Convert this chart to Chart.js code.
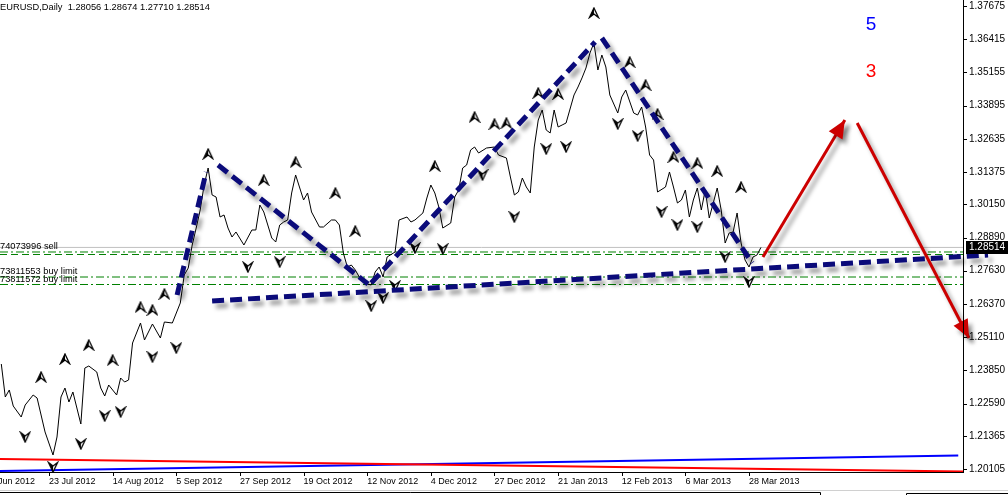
<!DOCTYPE html>
<html><head><meta charset="utf-8">
<script src="https://cdn.jsdelivr.net/npm/chart.js@4.4.1/dist/chart.umd.min.js"></script>
<style>html,body{margin:0;padding:0;background:#fff;overflow:hidden}canvas{display:block}</style>
</head><body><canvas id="c" width="1008" height="495"></canvas>
<script>
// ---- data (bar index = trading days from 29 Jun 2012 + 4) ----
const closeIdx=[0,1,2,3,5,6,8,9,11,13,14,15,16,17,18,20,21,22,24,25,26,27,29,30,31,32,33,35,36,38,40,41,43,45,46,47,48,49,50,51,52,53,54,55,56,57,58,59,61,63,64,65,66,68,69,70,71,72,73,74,76,77,78,80,81,83,84,85,86,87,88,89,90,92,93,94,95,96,97,99,100,102,103,104,106,107,108,109,110,111,113,114,115,116,117,118,119,120,122,124,125,127,128,129,130,131,132,133,134,135,136,137,138,139,140,141,142,144,145,146,147,148,149,150,151,152,153,155,156,157,159,160,161,162,163,164,165,167,168,169,170,171,172,173,174,175,176,177,178,180,181,182,183,184,185,186,187,188,189,190,191];
const closeVal=[1.24089,1.22837,1.23103,1.22495,1.22078,1.22533,1.22913,1.22799,1.21509,1.20636,1.21319,1.22837,1.23178,1.22647,1.23027,1.21812,1.23937,1.24013,1.23786,1.23178,1.22875,1.23292,1.22913,1.23558,1.23406,1.23482,1.24886,1.25645,1.25000,1.25607,1.25076,1.25683,1.25645,1.26404,1.27467,1.27732,1.28605,1.29250,1.29934,1.30882,1.31527,1.30503,1.30427,1.29668,1.29744,1.29250,1.28909,1.29099,1.28605,1.29175,1.29175,1.30123,1.29858,1.28871,1.28719,1.29364,1.29478,1.29554,1.30579,1.31262,1.30313,1.30579,1.29858,1.29288,1.29288,1.29554,1.29554,1.29364,1.28302,1.27770,1.27846,1.27657,1.27391,1.27125,1.27087,1.27581,1.27770,1.27391,1.28150,1.28340,1.29554,1.29668,1.29478,1.29554,1.29820,1.30389,1.30882,1.30579,1.30047,1.29250,1.29440,1.30427,1.30693,1.31527,1.31641,1.32211,1.32324,1.32097,1.32286,1.32324,1.32021,1.31907,1.31186,1.30503,1.30617,1.31148,1.30806,1.30579,1.32324,1.33349,1.33729,1.32970,1.32856,1.33729,1.33083,1.33159,1.33235,1.34298,1.34601,1.34943,1.35322,1.35892,1.36271,1.35247,1.35816,1.35360,1.34298,1.33615,1.34222,1.34488,1.33615,1.33539,1.33842,1.33083,1.32021,1.31831,1.30617,1.30806,1.31376,1.30806,1.30199,1.30313,1.30693,1.29668,1.30313,1.30768,1.29934,1.30693,1.29630,1.30768,1.29934,1.28681,1.29061,1.29099,1.29820,1.28681,1.28036,1.27770,1.28150,1.28226,1.28514];
const fracUpIdx=[10,16,22,28,35,38,41,52,66,74,84,89,109,119,124,127,135,140,149,158,162,165,169,175,180,186];
const fracUpVal=[1.23596,1.24279,1.24810,1.24241,1.26252,1.26139,1.26746,1.32059,1.31072,1.31755,1.30579,1.29137,1.31603,1.33463,1.33197,1.33235,1.34374,1.34336,1.37410,1.35550,1.34677,1.33577,1.31945,1.31717,1.31414,1.30806];
const fracDnIdx=[6,13,20,26,30,38,44,62,70,93,96,99,104,111,121,129,137,142,155,160,166,170,175,182,188];
const fracDnVal=[1.21319,1.20180,1.21053,1.22116,1.22268,1.24355,1.24696,1.27770,1.27960,1.26290,1.26594,1.27049,1.28491,1.28453,1.31262,1.29668,1.32248,1.32324,1.33197,1.32742,1.29858,1.29364,1.29288,1.28150,1.27201];
const yTicks=[1.20105,1.21365,1.22590,1.23850,1.25110,1.26370,1.27630,1.28890,1.30150,1.31375,1.32635,1.33895,1.35155,1.36415,1.37675];
const xTickIdx=[-4,12,28,44,60,76,92,108,124,140,156,172,188];
const xTickLabels=['29 Jun 2012','23 Jul 2012','14 Aug 2012','5 Sep 2012','27 Sep 2012','19 Oct 2012','12 Nov 2012','4 Dec 2012','27 Dec 2012','21 Jan 2013','12 Feb 2013','6 Mar 2013','28 Mar 2013'];
const patternIdx=[[44.2,51.5],[54.5,92.2],[93.0,149.3],[151.0,188.8],[53.0,248.1]];
const patternVal=[[1.26708,1.31376],[1.31641,1.27125],[1.27163,1.36309],[1.36461,1.27922],[1.26480,1.28226]];
const arrowIdx=[[191.5,212.1],[215.2,243.3]];
const arrowVal=[[1.28150,1.33349],[1.33235,1.25076]];
const levelVal=[1.28514,1.28340,1.28245,1.27391,1.27106];
const levelLabels=['','74073996 sell','','73811553 buy limit','73811572 buy limit'];
const redLineIdx=[-0.33,241.8], redLineVal=[1.20484,1.20009];
const blueLineIdx=[-0.33,240.6], blueLineVal=[1.20029,1.20617];
const annIdx=[218.7,218.7], annVal=[1.36954,1.35171], annText=['5','3'], annColor=['#0000ff','#ff0000'];
const titleText='EURUSD,Daily  1.28056 1.28674 1.27710 1.28514';
const lastPrice=1.28514;
const X_MIN=-0.33, X_MAX=241.8, Y_MIN=1.19991, Y_MAX=1.37903;

// ---- glyphs ----
function glyph(up){
  const c=document.createElement('canvas');c.width=12;c.height=12;
  const g=c.getContext('2d');
  const P=up?[[6,1],[10.5,10.5],[6,7],[1.5,10.5]]:[[6,11],[10.5,1.5],[6,5],[1.5,1.5]];
  g.lineJoin='miter';
  g.fillStyle='#fff';g.beginPath();P.forEach((p,i)=>i?g.lineTo(p[0],p[1]):g.moveTo(p[0],p[1]));g.closePath();g.fill();
  g.fillStyle='#000';g.beginPath();g.moveTo(P[0][0],P[0][1]);g.lineTo(P[2][0],P[2][1]);g.lineTo(P[3][0],P[3][1]);g.closePath();g.fill();
  g.strokeStyle='#000';g.lineWidth=1.3;g.beginPath();P.forEach((p,i)=>i?g.lineTo(p[0],p[1]):g.moveTo(p[0],p[1]));g.closePath();g.stroke();
  return c;
}
const upG=glyph(true), dnG=glyph(false);
const pts=(xs,ys)=>xs.map((x,i)=>({x,y:ys[i]}));

const datasets=[];
arrowIdx.forEach((a,i)=>datasets.push({data:pts(a,arrowVal[i]),borderColor:'#cc0000',borderWidth:3,pointRadius:0,_shadow:true,_arrow:true,clip:false}));
patternIdx.forEach((a,i)=>datasets.push({data:pts(a,patternVal[i]),borderColor:'#0b0b7a',borderWidth:5,borderDash:[12,6],borderCapStyle:'butt',pointRadius:0,_shadow:true,clip:false}));
datasets.push({data:pts(fracUpIdx,fracUpVal),showLine:false,pointStyle:upG,pointRadius:6});
datasets.push({data:pts(fracDnIdx,fracDnVal),showLine:false,pointStyle:dnG,pointRadius:6});
datasets.push({data:pts(closeIdx,closeVal),borderColor:'#000',borderWidth:1,pointRadius:0,tension:0});
levelVal.forEach((v,i)=>{
  const st=i===0?{borderColor:'#c0c0c0',borderDash:[]}:(i===2?{borderColor:'#008000',borderDash:[7,4]}:{borderColor:'#008000',borderDash:[8,3,2,3]});
  datasets.push(Object.assign({data:pts([X_MIN,X_MAX],[v,v]),borderWidth:1,pointRadius:0},st));
});
datasets.push({data:pts(redLineIdx,redLineVal),borderColor:'#ff0000',borderWidth:2,pointRadius:0});
datasets.push({data:pts(blueLineIdx,blueLineVal),borderColor:'#0000ff',borderWidth:2,pointRadius:0});

const FONT='"Liberation Sans", Arial, sans-serif';
const decor={
  id:'decor',
  beforeDatasetDraw(chart,args){
    const ds=chart.data.datasets[args.index];
    if(ds._shadow){const c=chart.ctx;c.save();c.shadowColor='rgba(0,0,0,0.38)';c.shadowBlur=4;c.shadowOffsetX=4;c.shadowOffsetY=5;}
  },
  afterDatasetDraw(chart,args){
    const ds=chart.data.datasets[args.index];
    if(!ds._shadow)return;
    const c=chart.ctx;
    if(ds._arrow){
      const m=chart.getDatasetMeta(args.index);const p0=m.data[0],p1=m.data[1];
      const a=Math.atan2(p1.y-p0.y,p1.x-p0.x),L=18,W=8;
      c.fillStyle=ds.borderColor;c.beginPath();
      c.moveTo(p1.x,p1.y);
      c.lineTo(p1.x-L*Math.cos(a)+W*Math.sin(a),p1.y-L*Math.sin(a)-W*Math.cos(a));
      c.lineTo(p1.x-L*Math.cos(a)-W*Math.sin(a),p1.y-L*Math.sin(a)+W*Math.cos(a));
      c.closePath();c.fill();
    }
    c.restore();
  },
  afterDraw(chart){
    const c=chart.ctx,x=chart.scales.x,y=chart.scales.y,A=chart.chartArea;
    c.save();
    c.fillStyle='#000';c.font='9.3px '+FONT;c.textBaseline='middle';c.textAlign='left';
    c.fillText(titleText,0,7);
    c.textBaseline='alphabetic';
    levelLabels.forEach((t,i)=>{if(t)c.fillText(t,0,Math.round(y.getPixelForValue(levelVal[i]))-3);});
    c.font='19px '+FONT;c.textAlign='center';c.textBaseline='middle';
    annText.forEach((t,i)=>{c.fillStyle=annColor[i];c.fillText(t,x.getPixelForValue(annIdx[i]),y.getPixelForValue(annVal[i]));});
    c.strokeStyle='#000';c.lineWidth=1;c.beginPath();
    c.moveTo(Math.round(A.right)+0.5,0);c.lineTo(Math.round(A.right)+0.5,Math.round(A.bottom)+1);
    c.moveTo(0,Math.round(A.bottom)+0.5);c.lineTo(Math.round(A.right)+1,Math.round(A.bottom)+0.5);
    yTicks.forEach(v=>{const py=Math.round(y.getPixelForValue(v))+0.5;c.moveTo(A.right,py);c.lineTo(A.right+4,py);});
    xTickIdx.forEach(v=>{const px=Math.round(x.getPixelForValue(v))+0.5;if(px>0){c.moveTo(px,A.bottom);c.lineTo(px,A.bottom+4);}});
    c.stroke();
    c.fillStyle='#000';c.font='9px '+FONT;c.textAlign='left';c.textBaseline='middle';
    xTickIdx.forEach((v,i)=>{if(v<X_MIN)c.fillText(xTickLabels[i],x.getPixelForValue(v),A.bottom+9.5);});
    const py=Math.round(y.getPixelForValue(lastPrice));
    c.fillStyle='#000';c.fillRect(A.right+3,py-6,1008-A.right-3,13);
    c.fillStyle='#fff';c.font='10px '+FONT;c.textBaseline='middle';c.fillText(lastPrice.toFixed(5),A.right+6,py+0.5);
    c.strokeStyle='#d0d0d0';c.beginPath();c.moveTo(0,490.5);c.lineTo(1008,490.5);c.stroke();
    c.strokeStyle='#000';c.beginPath();c.moveTo(0,492.5);c.lineTo(820.5,492.5);c.lineTo(820.5,495);
    c.moveTo(906.5,495);c.lineTo(906.5,493.5);c.lineTo(1008,493.5);c.stroke();
    c.restore();
  }
};

new Chart(document.getElementById('c'),{
  type:'line',
  data:{datasets},
  plugins:[decor],
  options:{
    responsive:false,animation:false,devicePixelRatio:1,
    layout:{padding:0,autoPadding:false},
    plugins:{legend:{display:false},tooltip:{enabled:false}},
    events:[],
    scales:{
      x:{type:'linear',position:'bottom',min:X_MIN,max:X_MAX,
        grid:{display:false,drawTicks:false},border:{display:false},
        afterBuildTicks:s=>{s.ticks=xTickIdx.filter(v=>v>=X_MIN).map(v=>({value:v}));},
        afterFit:s=>{s.height=23;s.paddingLeft=0;s.paddingRight=0;},
        ticks:{autoSkip:false,maxRotation:0,minRotation:0,align:'start',padding:4,color:'#000',font:{family:FONT,size:9},
          callback:v=>{const k=xTickIdx.indexOf(v);return k>=0?xTickLabels[k]:'';}}},
      y:{type:'linear',position:'right',min:Y_MIN,max:Y_MAX,
        grid:{display:false,drawTicks:false},border:{display:false},
        afterBuildTicks:s=>{s.ticks=yTicks.map(v=>({value:v}));},
        afterFit:s=>{s.width=45;s.paddingTop=0;s.paddingBottom=0;},
        ticks:{autoSkip:false,padding:6,color:'#000',font:{family:FONT,size:10},callback:v=>Number(v).toFixed(5)}}
    }
  }
});
</script></body></html>
